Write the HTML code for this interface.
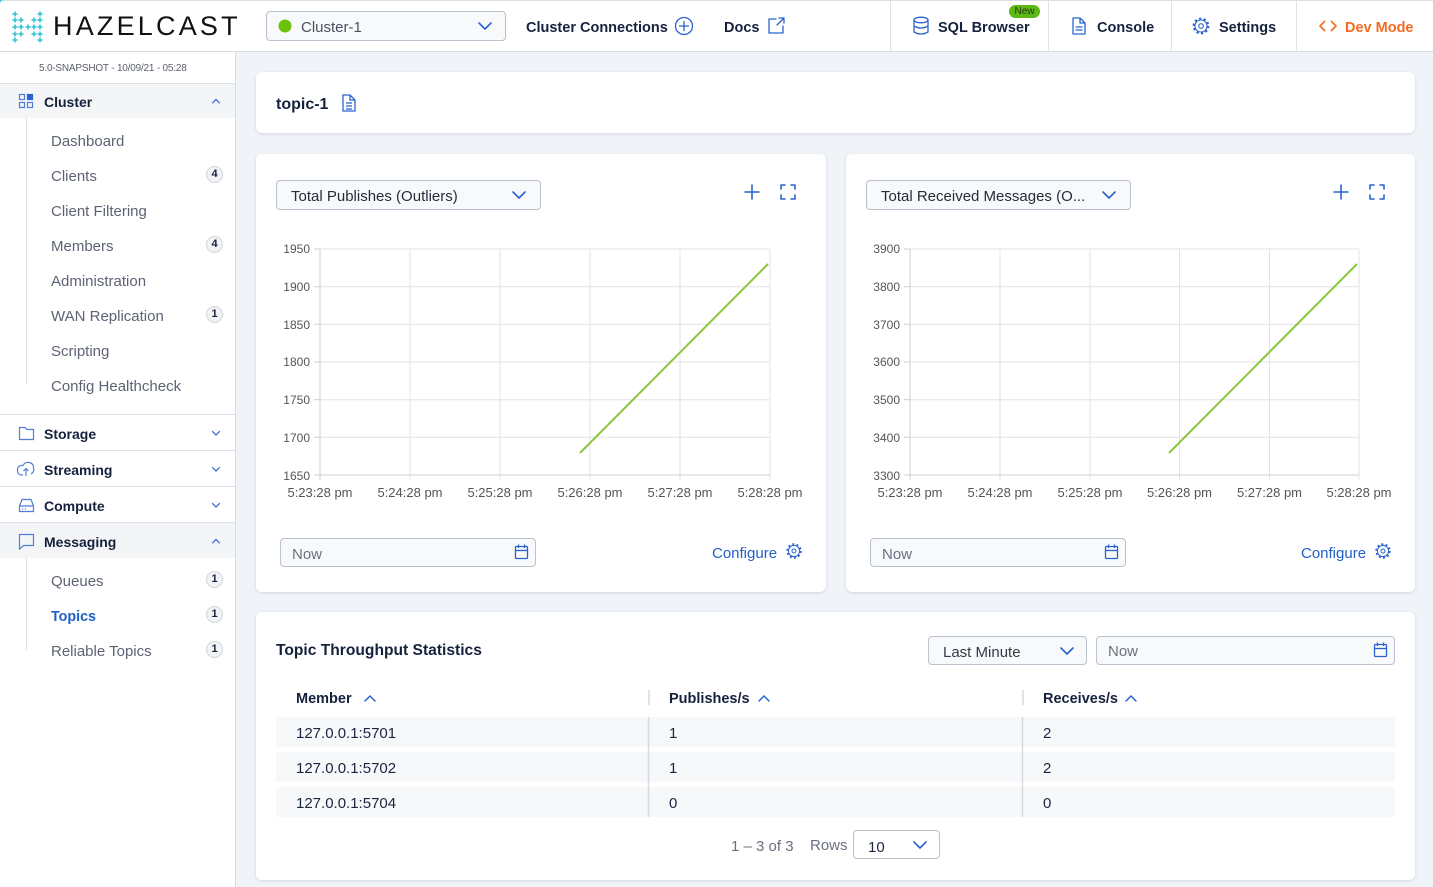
<!DOCTYPE html>
<html><head><meta charset="utf-8"><style>
*{margin:0;padding:0;box-sizing:border-box}
html,body{width:1433px;height:887px;overflow:hidden;background:#f0f3f7;font-family:"Liberation Sans",Arial,sans-serif;position:relative}
.a{position:absolute;white-space:nowrap;line-height:20px;z-index:3;margin-top:1.7px}
.card{position:absolute;background:#fff;border-radius:6px;box-shadow:0 1px 3px rgba(20,30,60,.13);z-index:1}
.box{position:absolute;background:#f8f9fa;border:1px solid #b9c1cd;border-radius:4px;z-index:2}
.nav{color:#16213e;font-weight:bold;font-size:14.5px}
.a.sh{color:#16213e;font-weight:bold;font-size:14px;margin-top:0.5px}
.sub{color:#5d6374;font-size:15px}
.bd{position:absolute;z-index:3;width:17px;height:17px;border-radius:50%;background:#f2f3f5;border:1px solid #d3d6dc;font-size:11px;font-weight:bold;color:#16213e;text-align:center;line-height:15px}
.row{position:absolute;left:276px;width:1119px;height:30px;background:#f7f8f9;z-index:2}
.td{color:#1b2541;font-size:15px}
.th{color:#16213e;font-weight:bold;font-size:14.5px}
.gray{color:#6b7080;font-size:15px}
svg.ov{position:absolute;left:0;top:0;z-index:4}
</style></head><body>

<!-- top bar -->
<div style="position:absolute;left:0;top:0;width:1433px;height:52px;background:#fff;border-top:1px solid #dcdfe4;border-bottom:1px solid #d9dde3;z-index:1"></div>
<!-- sidebar -->
<div style="position:absolute;left:0;top:52px;width:236px;height:835px;background:#fff;border-right:1px solid #d9dde3;z-index:1"></div>
<div style="position:absolute;left:0;top:84px;width:235px;height:34px;background:#f4f5f7;z-index:1"></div>
<div style="position:absolute;left:0;top:523px;width:235px;height:35px;background:#f4f5f7;z-index:1"></div>

<div class="a" style="left:53px;top:10px;margin-top:0;font-size:27px;line-height:32px;letter-spacing:3.2px;color:#111">HAZELCAST</div>

<div class="box" style="left:266px;top:11px;width:240px;height:30px"></div>
<div class="a" style="left:301px;top:16px;font-size:15px;color:#4b5060">Cluster-1</div>
<div class="a nav" style="left:526px;top:16px">Cluster Connections</div>
<div class="a nav" style="left:724px;top:16px">Docs</div>
<div class="a nav" style="left:938px;top:16px">SQL Browser</div>
<div style="position:absolute;left:1009px;top:5px;width:31px;height:13px;border-radius:7px;background:#5cb814;z-index:5;font-size:10px;line-height:13px;text-align:center;color:#1f3a08">New</div>
<div class="a nav" style="left:1097px;top:16px">Console</div>
<div class="a nav" style="left:1219px;top:16px">Settings</div>
<div class="a nav" style="left:1345px;top:16px;color:#f26b21">Dev Mode</div>

<!-- sidebar text -->
<div class="a" style="left:39px;top:59px;font-size:10px;line-height:16px;color:#5a5f6b;letter-spacing:-0.2px">5.0-SNAPSHOT - 10/09/21 - 05:28</div>
<div class="a sh" style="left:44px;top:91px">Cluster</div>
<div class="a sub" style="left:51px;top:130px">Dashboard</div>
<div class="a sub" style="left:51px;top:165px">Clients</div>
<div class="a sub" style="left:51px;top:200px">Client Filtering</div>
<div class="a sub" style="left:51px;top:235px">Members</div>
<div class="a sub" style="left:51px;top:270px">Administration</div>
<div class="a sub" style="left:51px;top:305px">WAN Replication</div>
<div class="a sub" style="left:51px;top:340px">Scripting</div>
<div class="a sub" style="left:51px;top:375px">Config Healthcheck</div>
<div class="bd" style="left:206px;top:166px">4</div>
<div class="bd" style="left:206px;top:236px">4</div>
<div class="bd" style="left:206px;top:306px">1</div>
<div class="a sh" style="left:44px;top:423px">Storage</div>
<div class="a sh" style="left:44px;top:459px">Streaming</div>
<div class="a sh" style="left:44px;top:495px">Compute</div>
<div class="a sh" style="left:44px;top:531px">Messaging</div>
<div class="a sub" style="left:51px;top:570px">Queues</div>
<div class="a" style="left:51px;top:605px;font-size:14.3px;font-weight:bold;color:#2160c4">Topics</div>
<div class="a sub" style="left:51px;top:640px">Reliable Topics</div>
<div class="bd" style="left:206px;top:571px">1</div>
<div class="bd" style="left:206px;top:606px">1</div>
<div class="bd" style="left:206px;top:641px">1</div>

<!-- title card -->
<div class="card" style="left:256px;top:72px;width:1159px;height:61px"></div>
<div class="a" style="left:276px;top:93px;font-size:16px;font-weight:bold;color:#16213e">topic-1</div>

<!-- chart cards -->
<div class="card" style="left:256px;top:154px;width:570px;height:438px"></div>
<div class="card" style="left:846px;top:154px;width:569px;height:438px"></div>
<div class="box" style="left:276px;top:180px;width:265px;height:30px"></div>
<div class="a" style="left:291px;top:185px;font-size:15px;color:#262c3a">Total Publishes (Outliers)</div>
<div class="box" style="left:866px;top:180px;width:265px;height:30px"></div>
<div class="a" style="left:881px;top:185px;font-size:15px;color:#262c3a">Total Received Messages (O...</div>
<div class="box" style="left:280px;top:538px;width:256px;height:29px"></div>
<div class="a gray" style="left:292px;top:543px">Now</div>
<div class="box" style="left:870px;top:538px;width:256px;height:29px"></div>
<div class="a gray" style="left:882px;top:543px">Now</div>
<div class="a" style="left:712px;top:542px;font-size:15px;color:#2160c4">Configure</div>
<div class="a" style="left:1301px;top:542px;font-size:15px;color:#2160c4">Configure</div>

<!-- table card -->
<div class="card" style="left:256px;top:612px;width:1159px;height:268px"></div>
<div class="a" style="left:276px;top:639px;font-size:15.6px;font-weight:bold;color:#16213e">Topic Throughput Statistics</div>
<div class="box" style="left:928px;top:636px;width:159px;height:29px"></div>
<div class="a" style="left:943px;top:641px;font-size:15px;color:#333a4a">Last Minute</div>
<div class="box" style="left:1096px;top:636px;width:299px;height:29px"></div>
<div class="a gray" style="left:1108px;top:640px">Now</div>
<div class="a th" style="left:296px;top:687px">Member</div>
<div class="a th" style="left:669px;top:687px">Publishes/s</div>
<div class="a th" style="left:1043px;top:687px">Receives/s</div>
<div class="row" style="top:717px"></div>
<div class="row" style="top:752px"></div>
<div class="row" style="top:787px"></div>
<div class="a td" style="left:296px;top:722px">127.0.0.1:5701</div>
<div class="a td" style="left:669px;top:722px">1</div>
<div class="a td" style="left:1043px;top:722px">2</div>
<div class="a td" style="left:296px;top:757px">127.0.0.1:5702</div>
<div class="a td" style="left:669px;top:757px">1</div>
<div class="a td" style="left:1043px;top:757px">2</div>
<div class="a td" style="left:296px;top:792px">127.0.0.1:5704</div>
<div class="a td" style="left:669px;top:792px">0</div>
<div class="a td" style="left:1043px;top:792px">0</div>
<div class="a gray" style="left:731px;top:835px">1 – 3 of 3</div>
<div class="a gray" style="left:810px;top:834px">Rows</div>
<div class="box" style="left:853px;top:830px;width:87px;height:29px;background:#fff"></div>
<div class="a td" style="left:868px;top:836px">10</div>

<svg class="ov" width="1433" height="887" viewBox="0 0 1433 887" xmlns="http://www.w3.org/2000/svg">
<!-- logo -->
<g fill="#36c3d3">
<g id="cr"><rect x="-2.5" y="-0.8" width="5" height="1.6"/><rect x="-0.8" y="-2.5" width="1.6" height="5"/></g>
<use href="#cr" x="15" y="14"/><use href="#cr" x="15" y="20"/><use href="#cr" x="15" y="27"/><use href="#cr" x="15" y="34"/><use href="#cr" x="15" y="40"/>
<use href="#cr" x="21" y="20"/><use href="#cr" x="21" y="27"/><use href="#cr" x="21" y="34"/>
<use href="#cr" x="28" y="27"/>
<use href="#cr" x="34" y="20"/><use href="#cr" x="34" y="27"/><use href="#cr" x="34" y="34"/>
<use href="#cr" x="40" y="14"/><use href="#cr" x="40" y="20"/><use href="#cr" x="40" y="27"/><use href="#cr" x="40" y="34"/><use href="#cr" x="40" y="40"/>
</g>
<!-- top bar separators -->
<g stroke="#dfe2e7" stroke-width="1">
<line x1="890.5" y1="1" x2="890.5" y2="51"/><line x1="1048.5" y1="1" x2="1048.5" y2="51"/>
<line x1="1171.5" y1="1" x2="1171.5" y2="51"/><line x1="1296.5" y1="1" x2="1296.5" y2="51"/>
</g>
<circle cx="285" cy="26" r="6.5" fill="#6cc20a"/>
<g fill="none" stroke="#2a63d0" stroke-width="1.6" stroke-linecap="round" stroke-linejoin="round">
<polyline points="479,23 485,29 491,23"/>
<circle cx="684" cy="26" r="8.5" stroke-width="1.3"/><line x1="684" y1="21.5" x2="684" y2="30.5" stroke-width="1.3"/><line x1="679.5" y1="26" x2="688.5" y2="26" stroke-width="1.3"/>
<path d="M776 19 H769 V33 H783 V26" stroke-width="1.3"/><path d="M777 25 L784 18 M779 18 H784 V23" stroke-width="1.3"/>
<!-- database -->
<g stroke-width="1.3"><ellipse cx="921" cy="20" rx="7" ry="2.8"/><path d="M914 20 V32 Q921 36 928 32 V20 M914 26 Q921 30 928 26"/></g>
<!-- console doc -->
<g stroke-width="1.3"><path d="M1073 18 H1080 L1085 23 V34 H1073 Z M1080 18 V23 H1085"/><line x1="1076" y1="27" x2="1082" y2="27"/><line x1="1076" y1="30" x2="1082" y2="30"/></g>
<!-- settings gear -->
<circle cx="1201" cy="26" r="7.3" stroke-width="2.2" stroke-dasharray="2.2 2.4" stroke-linecap="butt"/>
<circle cx="1201" cy="26" r="6" stroke-width="1.1"/><circle cx="1201" cy="26" r="2.3" stroke-width="1.1"/>
</g>
<polyline points="1325,21 1320,26 1325,31" fill="none" stroke="#f26b21" stroke-width="1.6"/>
<polyline points="1331,21 1336,26 1331,31" fill="none" stroke="#f26b21" stroke-width="1.6"/>

<!-- sidebar lines -->
<g stroke="#dcdfe4" stroke-width="1">
<line x1="0" y1="83.5" x2="235" y2="83.5"/>
<line x1="0" y1="414.5" x2="235" y2="414.5"/><line x1="0" y1="450.5" x2="235" y2="450.5"/>
<line x1="0" y1="486.5" x2="235" y2="486.5"/><line x1="0" y1="522.5" x2="235" y2="522.5"/>
<line x1="26.5" y1="118" x2="26.5" y2="384"/><line x1="26.5" y1="558" x2="26.5" y2="650"/>
</g>
<!-- sidebar icons -->
<g fill="none" stroke="#4f7fd8" stroke-width="1.2">
<rect x="19.5" y="94.5" width="5" height="5"/><rect x="19.5" y="102.5" width="5" height="5"/><rect x="27.5" y="102.5" width="5" height="5"/>
<path d="M19.5 427.5 H25 L27 429.5 H33.5 V439.5 H19.5 Z"/>
<path d="M23 475 H21 Q17 474 17.5 469.5 Q18 465 23 465.5 Q25 461.5 29.5 462.5 Q34 464 33.5 468 Q35 471 31 474 M26 476 V469 M23.5 471 L26 468.5 L28.5 471"/>
<path d="M19.5 506 L22 499.5 H31 L33.5 506 V511.5 H19.5 Z M19.5 506 H33.5 M22 509 H23 M25 509 H26"/>
<path d="M19.5 534.5 H33.5 V545.5 H23.5 L19.5 549 Z"/>
</g>
<rect x="27.5" y="94.5" width="5" height="5" fill="#2a63d0" stroke="#2a63d0" stroke-width="1.2"/>
<g fill="none" stroke="#2a63d0" stroke-width="1.2" stroke-linecap="round">
<polyline points="212.5,103 216,99.5 219.5,103"/>
<polyline points="212.5,431.5 216,435 219.5,431.5"/>
<polyline points="212.5,467.5 216,471 219.5,467.5"/>
<polyline points="212.5,503.5 216,507 219.5,503.5"/>
<polyline points="212.5,543 216,539.5 219.5,543"/>
</g>
<!-- topic doc icon -->
<g fill="none" stroke="#2a63d0" stroke-width="1.3">
<path d="M343 95 H350 L355 100 V111 H343 Z M350 95 V100 H355"/><line x1="346" y1="103" x2="352" y2="103"/><line x1="346" y1="106" x2="352" y2="106"/><line x1="346" y1="109" x2="352" y2="109"/>
</g>

<!-- chart card icons -->
<g fill="none" stroke="#2a63d0" stroke-width="1.6" stroke-linecap="round" stroke-linejoin="round">
<polyline points="513,192 519,198 525,192"/>
<polyline points="1103,192 1109,198 1115,192"/>
<line x1="752" y1="185" x2="752" y2="199"/><line x1="745" y1="192" x2="759" y2="192"/>
<line x1="1341" y1="185" x2="1341" y2="199"/><line x1="1334" y1="192" x2="1348" y2="192"/>
<path d="M781 189 V185 H785 M791 185 H795 V189 M795 195 V199 H791 M785 199 H781 V195"/>
<path d="M1370 189 V185 H1374 M1380 185 H1384 V189 M1384 195 V199 H1380 M1374 199 H1370 V195"/>
<polyline points="1061,648 1067,654 1073,648"/>
<polyline points="914,842 920,848 926,842"/>
</g>
<g fill="none" stroke="#2a63d0" stroke-width="1.3">
<rect x="515.5" y="546.5" width="12" height="12" rx="1"/><line x1="515.5" y1="550.5" x2="527.5" y2="550.5"/><line x1="518.5" y1="544.5" x2="518.5" y2="548"/><line x1="524.5" y1="544.5" x2="524.5" y2="548"/>
<rect x="1105.5" y="546.5" width="12" height="12" rx="1"/><line x1="1105.5" y1="550.5" x2="1117.5" y2="550.5"/><line x1="1108.5" y1="544.5" x2="1108.5" y2="548"/><line x1="1114.5" y1="544.5" x2="1114.5" y2="548"/>
<rect x="1374.5" y="644.5" width="12" height="12" rx="1"/><line x1="1374.5" y1="648.5" x2="1386.5" y2="648.5"/><line x1="1377.5" y1="642.5" x2="1377.5" y2="646"/><line x1="1383.5" y1="642.5" x2="1383.5" y2="646"/>
<circle cx="794" cy="551" r="6.8" stroke-width="1.8" stroke-dasharray="2 2.3"/><circle cx="794" cy="551" r="5.6" stroke-width="1"/><circle cx="794" cy="551" r="2" stroke-width="1"/>
<circle cx="1383" cy="551" r="6.8" stroke-width="1.8" stroke-dasharray="2 2.3"/><circle cx="1383" cy="551" r="5.6" stroke-width="1"/><circle cx="1383" cy="551" r="2" stroke-width="1"/>
</g>

<!-- chart 1 -->
<g stroke="#e3e3e3" stroke-width="1">
<line x1="320" y1="249" x2="770" y2="249"/><line x1="320" y1="286.7" x2="770" y2="286.7"/><line x1="320" y1="324.3" x2="770" y2="324.3"/>
<line x1="320" y1="362" x2="770" y2="362"/><line x1="320" y1="399.7" x2="770" y2="399.7"/><line x1="320" y1="437.3" x2="770" y2="437.3"/>
<line x1="410" y1="249" x2="410" y2="480"/><line x1="500" y1="249" x2="500" y2="480"/><line x1="590" y1="249" x2="590" y2="480"/>
<line x1="680" y1="249" x2="680" y2="480"/><line x1="770" y1="249" x2="770" y2="480"/>
</g>
<g stroke="#cfcfcf" stroke-width="1">
<line x1="320" y1="249" x2="320" y2="480"/><line x1="314" y1="475" x2="770" y2="475"/>
<line x1="314" y1="249" x2="320" y2="249"/><line x1="314" y1="286.7" x2="320" y2="286.7"/><line x1="314" y1="324.3" x2="320" y2="324.3"/>
<line x1="314" y1="362" x2="320" y2="362"/><line x1="314" y1="399.7" x2="320" y2="399.7"/><line x1="314" y1="437.3" x2="320" y2="437.3"/>
</g>
<g font-family="Liberation Sans, Arial, sans-serif" font-size="12" fill="#555" text-anchor="end">
<text x="310" y="253">1950</text><text x="310" y="291">1900</text><text x="310" y="329">1850</text>
<text x="310" y="366">1800</text><text x="310" y="404">1750</text><text x="310" y="442">1700</text><text x="310" y="480">1650</text>
</g>
<g font-family="Liberation Sans, Arial, sans-serif" font-size="13" fill="#555" text-anchor="middle">
<text x="320" y="497">5:23:28 pm</text><text x="410" y="497">5:24:28 pm</text><text x="500" y="497">5:25:28 pm</text>
<text x="590" y="497">5:26:28 pm</text><text x="680" y="497">5:27:28 pm</text><text x="770" y="497">5:28:28 pm</text>
</g>
<line x1="580" y1="453" x2="768" y2="264" stroke="#8cc63f" stroke-width="2"/>

<!-- chart 2 -->
<g stroke="#e3e3e3" stroke-width="1">
<line x1="910" y1="249" x2="1359" y2="249"/><line x1="910" y1="286.7" x2="1359" y2="286.7"/><line x1="910" y1="324.3" x2="1359" y2="324.3"/>
<line x1="910" y1="362" x2="1359" y2="362"/><line x1="910" y1="399.7" x2="1359" y2="399.7"/><line x1="910" y1="437.3" x2="1359" y2="437.3"/>
<line x1="1000" y1="249" x2="1000" y2="480"/><line x1="1090" y1="249" x2="1090" y2="480"/><line x1="1179.5" y1="249" x2="1179.5" y2="480"/>
<line x1="1269.5" y1="249" x2="1269.5" y2="480"/><line x1="1359" y1="249" x2="1359" y2="480"/>
</g>
<g stroke="#cfcfcf" stroke-width="1">
<line x1="910" y1="249" x2="910" y2="480"/><line x1="904" y1="475" x2="1359" y2="475"/>
<line x1="904" y1="249" x2="910" y2="249"/><line x1="904" y1="286.7" x2="910" y2="286.7"/><line x1="904" y1="324.3" x2="910" y2="324.3"/>
<line x1="904" y1="362" x2="910" y2="362"/><line x1="904" y1="399.7" x2="910" y2="399.7"/><line x1="904" y1="437.3" x2="910" y2="437.3"/>
</g>
<g font-family="Liberation Sans, Arial, sans-serif" font-size="12" fill="#555" text-anchor="end">
<text x="900" y="253">3900</text><text x="900" y="291">3800</text><text x="900" y="329">3700</text>
<text x="900" y="366">3600</text><text x="900" y="404">3500</text><text x="900" y="442">3400</text><text x="900" y="480">3300</text>
</g>
<g font-family="Liberation Sans, Arial, sans-serif" font-size="13" fill="#555" text-anchor="middle">
<text x="910" y="497">5:23:28 pm</text><text x="1000" y="497">5:24:28 pm</text><text x="1090" y="497">5:25:28 pm</text>
<text x="1179.5" y="497">5:26:28 pm</text><text x="1269.5" y="497">5:27:28 pm</text><text x="1359" y="497">5:28:28 pm</text>
</g>
<line x1="1169" y1="453" x2="1357" y2="264" stroke="#8cc63f" stroke-width="2"/>

<!-- table separators & sort chevrons -->
<g stroke="#d6d9de" stroke-width="1.5">
<line x1="649" y1="690" x2="649" y2="705"/><line x1="1023" y1="690" x2="1023" y2="705"/>
<line x1="648.5" y1="717" x2="648.5" y2="817"/><line x1="1022.5" y1="717" x2="1022.5" y2="817"/>
</g>
<g fill="none" stroke="#2a63d0" stroke-width="1.5" stroke-linecap="round">
<polyline points="365,701 370,696 375,701"/>
<polyline points="759,701 764,696 769,701"/>
<polyline points="1126,701 1131,696 1136,701"/>
</g>
</svg>
</body></html>
